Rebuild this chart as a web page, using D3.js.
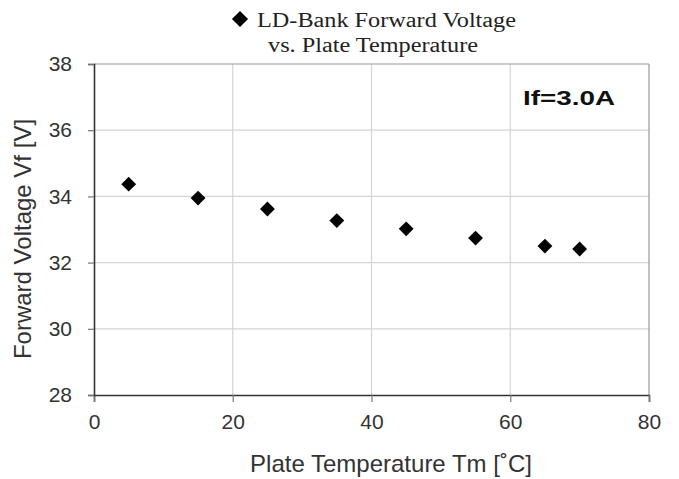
<!DOCTYPE html>
<html>
<head>
<meta charset="utf-8">
<script src="https://cdn.jsdelivr.net/npm/d3@7"></script>
<style>
  body { margin: 0; background: #fff; }
  .tick text { font-family: "Liberation Sans", Arial, sans-serif; font-size: 21px; fill: #333; }
</style>
</head>
<body>
<div id="chart"></div>
<script>
// data
var temps = [5, 15, 25, 35, 45, 55, 65, 70];
var volts = [34.37, 33.95, 33.62, 33.27, 33.02, 32.74, 32.5, 32.41];
var xTicks = [0, 20, 40, 60, 80];
var yTicks = [28, 30, 32, 34, 36, 38];

var svgWidth = 679, svgHeight = 479;
var margin = { top: 64, right: 30, bottom: 84, left: 94 };
var width = 649 - margin.left;
var height = 395 - margin.top;

var svg = d3.select("#chart").append("svg")
  .attr("width", svgWidth)
  .attr("height", svgHeight);

var chartGroup = svg.append("g")
  .attr("transform", `translate(${margin.left}, ${margin.top})`);

var xScale = d3.scaleLinear().domain([0, 80]).range([0, width]);
var yScale = d3.scaleLinear().domain([28, 38]).range([height, 0]);

// grid
chartGroup.append("g").selectAll("line")
  .data(xTicks.slice(1, -1))
  .enter().append("line")
  .attr("x1", d => xScale(d)).attr("x2", d => xScale(d))
  .attr("y1", 0).attr("y2", height)
  .attr("stroke", "#d4d4d4").attr("stroke-width", 1.2);

chartGroup.append("g").selectAll("line")
  .data(yTicks.slice(1, -1))
  .enter().append("line")
  .attr("x1", 0).attr("x2", width)
  .attr("y1", d => yScale(d)).attr("y2", d => yScale(d))
  .attr("stroke", "#d4d4d4").attr("stroke-width", 1.2);

// frame top/right
chartGroup.append("line").attr("x1", 0).attr("x2", width).attr("y1", 0).attr("y2", 0)
  .attr("stroke", "#999").attr("stroke-width", 1.2);
chartGroup.append("line").attr("x1", width).attr("x2", width).attr("y1", 0).attr("y2", height)
  .attr("stroke", "#999").attr("stroke-width", 1.2);

// axes
var bottomAxis = d3.axisBottom(xScale).tickValues(xTicks).tickSize(7).tickPadding(11);
var leftAxis = d3.axisLeft(yScale).tickValues(yTicks).tickSize(6).tickPadding(16);

var xg = chartGroup.append("g")
  .attr("transform", `translate(0, ${height})`)
  .call(bottomAxis);
var yg = chartGroup.append("g").call(leftAxis);

[xg, yg].forEach(function(g) {
  g.select(".domain").attr("stroke", "#333").attr("stroke-width", 1.6);
  g.selectAll(".tick line").attr("stroke", "#777").attr("stroke-width", 1.2);
});
xg.selectAll(".tick text").attr("dy", "0.75em");

// points
var diamond = d3.symbol().type(d3.symbolSquare).size(110);
chartGroup.append("g").selectAll("path")
  .data(temps)
  .enter().append("path")
  .attr("d", diamond)
  .attr("transform", (d, i) => `translate(${xScale(d)}, ${yScale(volts[i])}) rotate(45)`)
  .attr("fill", "#000");

// annotation
chartGroup.append("text")
  .attr("x", 429).attr("y", 41)
  .attr("textLength", 92).attr("lengthAdjust", "spacingAndGlyphs")
  .style("font-family", "Liberation Sans, Arial, sans-serif")
  .style("font-size", "21px").style("font-weight", "bold")
  .attr("fill", "#111")
  .text("If=3.0A");

// title with legend marker
svg.append("path")
  .attr("d", d3.symbol().type(d3.symbolSquare).size(130))
  .attr("transform", "translate(240, 19) rotate(45)")
  .attr("fill", "#000");
svg.append("text")
  .attr("x", 257).attr("y", 27)
  .attr("textLength", 259).attr("lengthAdjust", "spacingAndGlyphs")
  .style("font-family", "Liberation Serif, Times New Roman, serif")
  .style("font-size", "20px")
  .attr("fill", "#222")
  .text("LD-Bank Forward Voltage");
svg.append("text")
  .attr("x", 268).attr("y", 52)
  .attr("textLength", 210).attr("lengthAdjust", "spacingAndGlyphs")
  .style("font-family", "Liberation Serif, Times New Roman, serif")
  .style("font-size", "20px")
  .attr("fill", "#222")
  .text("vs. Plate Temperature");

// axis labels
svg.append("text")
  .attr("x", 391).attr("y", 472)
  .attr("text-anchor", "middle")
  .style("font-family", "Liberation Sans, Arial, sans-serif")
  .style("font-size", "24px")
  .attr("fill", "#333")
  .text("Plate Temperature Tm [˚C]");

svg.append("text")
  .attr("transform", "translate(31, 239) rotate(-90)")
  .attr("text-anchor", "middle")
  .style("font-family", "Liberation Sans, Arial, sans-serif")
  .style("font-size", "24px")
  .attr("fill", "#333")
  .text("Forward Voltage Vf [V]");
</script>
</body>
</html>
